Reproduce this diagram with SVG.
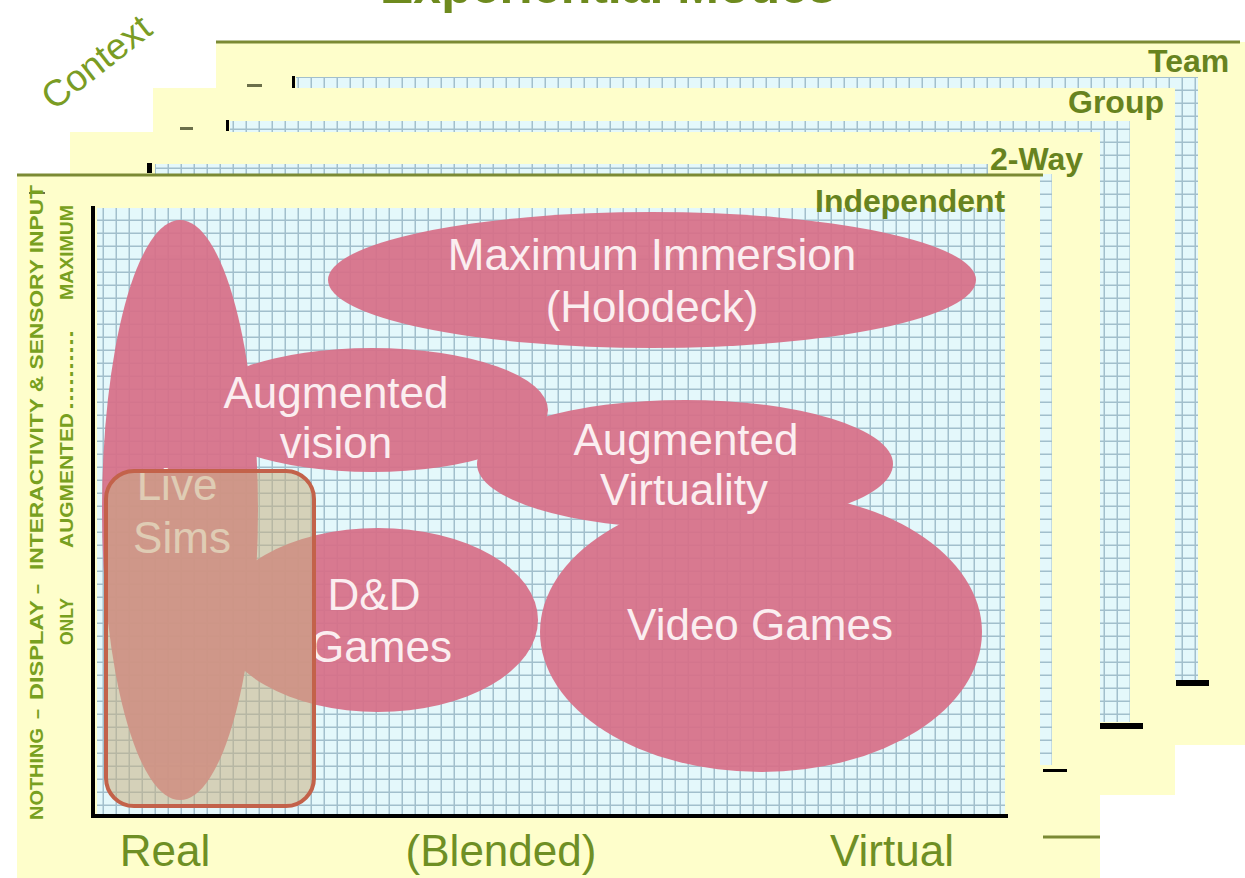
<svg xmlns="http://www.w3.org/2000/svg" width="1245" height="878" viewBox="0 0 1245 878">
  <style>
    .panel { fill: #fefecb; }
    .olive { stroke: #7b8a34; stroke-width: 3; }
    .layerlabel { font-family: "Liberation Sans", Arial, sans-serif; font-weight: bold; font-size: 32px; fill: #67831f; }
    .axislabel { font-family: "Liberation Sans", Arial, sans-serif; font-size: 44px; fill: #6e8f24; text-anchor: middle; }
    .ylabel { font-family: "Liberation Sans", Arial, sans-serif; font-weight: bold; font-size: 19px; fill: #78a020; }
    .blob { fill: #d86f88; }
    .blobtext { font-family: "Liberation Sans", Arial, sans-serif; font-size: 44px; fill: #fbeef0; text-anchor: middle; }
    .tick { fill: #000; }
    .dash { fill: #6b6f4a; }
  </style>
  <defs>
    <pattern id="grid" width="13" height="13" patternUnits="userSpaceOnUse">
      <rect width="13" height="13" fill="#e4f8fb"/>
      <path d="M12.3 0 V13 M0 12.3 H13" stroke="#a2bfcc" stroke-width="1.6" fill="none"/>
    </pattern>
  </defs>

  <rect width="1245" height="878" fill="#ffffff"/>

  <!-- title (cut off at top in the source) -->
  <text x="380" y="3" font-family="Liberation Sans, Arial, sans-serif" font-weight="bold" font-size="50" fill="#6e8a1e">Experiential Modes</text>

  <!-- Context -->
  <text transform="translate(104,72) rotate(-38)" font-family="Liberation Sans, Arial, sans-serif" font-size="37" fill="#7a9c24" text-anchor="middle">Context</text>

  <!-- Team layer -->
  <g id="layer-team">
    <rect class="panel" x="216" y="42" width="1029" height="703"/>
    <line class="olive" x1="216" y1="42" x2="1240" y2="42"/>
    <text class="layerlabel" x="1148" y="72">Team</text>
    <rect class="dash" x="247" y="84" width="15" height="3"/>
    <rect class="tick" x="292" y="76" width="3" height="12"/>
    <rect fill="url(#grid)" x="296" y="77" width="902" height="603"/>
    <rect class="tick" x="1176" y="680" width="33" height="6"/>
  </g>

  <!-- Group layer -->
  <g id="layer-group">
    <rect class="panel" x="153" y="88" width="1022" height="707"/>
    <text class="layerlabel" x="1068" y="113">Group</text>
    <rect class="dash" x="180" y="127" width="13" height="3"/>
    <rect class="tick" x="226" y="120" width="3" height="11"/>
    <rect fill="url(#grid)" x="230" y="121" width="900" height="601"/>
    <rect class="tick" x="1100" y="723" width="43" height="6"/>
  </g>

  <!-- 2-Way layer -->
  <g id="layer-2way">
    <rect class="panel" x="70" y="132" width="1030" height="746"/>
    <rect class="tick" x="147" y="163" width="5" height="10"/>
    <rect fill="url(#grid)" x="155" y="164" width="897" height="601"/>
    <rect class="panel" x="988" y="145" width="100" height="29"/>
    <text class="layerlabel" x="990" y="170">2-Way</text>
    <rect class="tick" x="1043" y="769" width="24" height="3"/>
    <line class="olive" x1="1043" y1="837" x2="1100" y2="837"/>
  </g>

  <!-- Independent layer -->
  <g id="layer-independent">
    <rect class="panel" x="17" y="175" width="1023" height="703"/>
    <line class="olive" x1="17" y1="175" x2="1043" y2="175"/>
    <rect class="dash" x="29" y="192" width="16" height="2"/>
    <rect fill="url(#grid)" x="97" y="208" width="908" height="606"/>
    <text class="layerlabel" x="815" y="212">Independent</text>
  </g>

  <!-- regions -->
  <g id="regions" opacity="0.92">
    <ellipse class="blob" cx="652" cy="280" rx="324" ry="68"/>
    <ellipse class="blob" cx="180" cy="510" rx="78" ry="290"/>
    <ellipse class="blob" cx="372" cy="410" rx="176" ry="62"/>
    <ellipse class="blob" cx="685" cy="464" rx="208" ry="64"/>
    <ellipse class="blob" cx="378" cy="620" rx="160" ry="92"/>
    <ellipse class="blob" cx="761" cy="632" rx="221" ry="140"/>
  </g>

  <g id="node-holodeck">
    <text class="blobtext" x="652" y="270">Maximum Immersion</text>
    <text class="blobtext" x="652" y="322">(Holodeck)</text>
  </g>
  <g id="node-augmented-vision">
    <text class="blobtext" x="336" y="408">Augmented</text>
    <text class="blobtext" x="336" y="458">vision</text>
  </g>
  <g id="node-augmented-virtuality">
    <text class="blobtext" x="686" y="455">Augmented</text>
    <text class="blobtext" x="684" y="505">Virtuality</text>
  </g>
  <g id="node-dnd">
    <text class="blobtext" x="374" y="610">D&amp;D</text>
    <text class="blobtext" x="381" y="662">Games</text>
  </g>
  <g id="node-video-games">
    <text class="blobtext" x="760" y="640">Video Games</text>
  </g>
  <g id="node-live-sims">
    <text class="blobtext" x="177" y="500">Live</text>
    <text class="blobtext" x="182" y="553">Sims</text>
    <rect x="106" y="471" width="208" height="335" rx="28" fill="rgb(200,176,132)" fill-opacity="0.55" stroke="#c3624a" stroke-width="4"/>
  </g>

  <!-- axes -->
  <g id="axes">
    <rect class="tick" x="91" y="206" width="4" height="612"/>
    <rect class="tick" x="91" y="814" width="917" height="4"/>
  </g>

  <!-- axis labels -->
  <g id="x-labels">
    <text class="axislabel" x="165" y="866">Real</text>
    <text class="axislabel" x="501" y="866">(Blended)</text>
    <text class="axislabel" x="892" y="866">Virtual</text>
  </g>
  <g id="y-labels">
    <text class="ylabel" transform="translate(43,820) rotate(-90)" textLength="92" lengthAdjust="spacingAndGlyphs">NOTHING</text>
    <text class="ylabel" transform="translate(43,719) rotate(-90)" textLength="10" lengthAdjust="spacingAndGlyphs">–</text>
    <text class="ylabel" transform="translate(43,700) rotate(-90)" textLength="100" lengthAdjust="spacingAndGlyphs">DISPLAY</text>
    <text class="ylabel" transform="translate(43,594) rotate(-90)" textLength="10" lengthAdjust="spacingAndGlyphs">–</text>
    <text class="ylabel" transform="translate(43,570) rotate(-90)" textLength="385" lengthAdjust="spacingAndGlyphs">INTERACTIVITY &amp; SENSORY INPUT</text>
    <text class="ylabel" transform="translate(73,645) rotate(-90)" textLength="47" lengthAdjust="spacingAndGlyphs">ONLY</text>
    <text class="ylabel" transform="translate(73,548) rotate(-90)" textLength="135" lengthAdjust="spacingAndGlyphs">AUGMENTED</text>
    <text class="ylabel" transform="translate(73,410) rotate(-90)" textLength="80" lengthAdjust="spacingAndGlyphs">..........</text>
    <text class="ylabel" transform="translate(73,300) rotate(-90)" textLength="95" lengthAdjust="spacingAndGlyphs">MAXIMUM</text>
  </g>
</svg>
